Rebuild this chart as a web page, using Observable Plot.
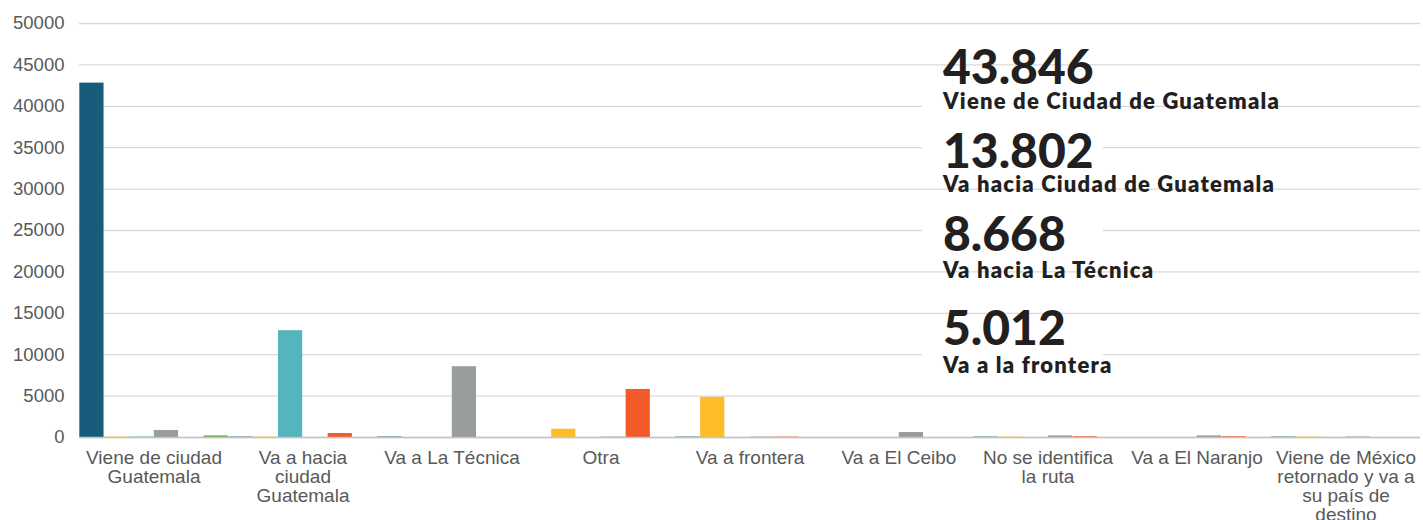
<!DOCTYPE html>
<html><head><meta charset="utf-8">
<script src="https://cdn.jsdelivr.net/npm/d3@7"></script>
<script src="https://cdn.jsdelivr.net/npm/@observablehq/plot@0.6"></script>
<style>
body{margin:0;background:#fff;}
#wrap{position:relative;width:1423px;height:520px;overflow:hidden;background:#fff;}
#wrap svg{position:absolute;left:0;top:0;}
</style></head>
<body><div id="wrap"></div>
<script>
// ---- data ----
const categories = ["Viene de ciudad Guatemala","Va a hacia ciudad Guatemala","Va a La Técnica","Otra","Va a frontera","Va a El Ceibo","No se identifica la ruta","Va a El Naranjo","Viene de México retornado y va a su país de destino"];
const tickLabels = ["Viene de ciudad\nGuatemala","Va a hacia\nciudad\nGuatemala","Va a La Técnica","Otra","Va a frontera","Va a El Ceibo","No se identifica\nla ruta","Va a El Naranjo","Viene de México\nretornado y va a\nsu país de\ndestino"];
const series = ["Serie 1","Serie 2","Serie 3","Serie 4","Serie 5","Serie 6"];
const serie1 = [42800, 50, 60, 0, 50, 0, 50, 0, 50];
const serie2 = [50, 50, 0, 1000, 4850, 0, 50, 0, 50];
const serie3 = [60, 12900, 0, 0, 0, 0, 0, 0, 0];
const serie4 = [850, 0, 8550, 50, 50, 600, 200, 200, 60];
const serie5 = [0, 480, 0, 5800, 50, 0, 100, 100, 0];
const serie6 = [200, 0, 0, 0, 0, 0, 0, 0, 0];
const yTicks = [0,5000,10000,15000,20000,25000,30000,35000,40000,45000,50000];
const annotationValues = ["43.846","13.802","8.668","5.012"];
const annotationLabels = ["Viene de Ciudad de Guatemala","Va hacia Ciudad de Guatemala","Va hacia La Técnica","Va a la frontera"];

// ---- styles ----
const seriesColors = ["#175d7b","#fdbd29","#55b5bf","#9a9d9d","#f25a29","#6bb545"];

const allSeries = [serie1, serie2, serie3, serie4, serie5, serie6];
const rows = [];
categories.forEach((c, i) => {
  series.forEach((s, j) => rows.push({cat: c, serie: s, value: allSeries[j][i]}));
});

const chart = Plot.plot({
  width: 1423, height: 520,
  marginLeft: 79, marginRight: 3, marginTop: 23, marginBottom: 83,
  style: {fontFamily: '"Liberation Sans", Arial, sans-serif', fontSize: "18.5px", color: "#595959", background: "#fff"},
  fx: {domain: categories, padding: 0, round: false, label: null},
  x: {domain: series, padding: 0, round: false, axis: null},
  y: {domain: [0, 50000], label: null},
  color: {domain: series, range: seriesColors},
  marks: [
    Plot.gridY(yTicks, {stroke: "#d9d9d9", strokeOpacity: 1, strokeWidth: 1.3}),
    Plot.barY(rows, {fx: "cat", x: "serie", y: "value", fill: "serie", insetLeft: 0.3, insetRight: 0.3}),
    Plot.ruleY([0], {stroke: "#c4c4c4", strokeWidth: 1.5}),
    Plot.axisY(yTicks, {tickSize: 0, tickPadding: 15, tickFormat: d => String(d), fill: "#595959", fontSize: 18.5}),
    Plot.axisFx({anchor: "bottom", tickSize: 0, tickPadding: 13, lineHeight: 1.0, fill: "#595959", fontSize: 19,
      tickFormat: d => tickLabels[categories.indexOf(d)]})
  ]
});
const wrap = document.getElementById("wrap");
wrap.appendChild(chart);

// ---- annotation overlay ----
const ov = d3.select(wrap).append("svg").attr("width", 1423).attr("height", 520);
const boxes = [[98, 18], [130, 40], [212, 38], [348, 10]];
ov.selectAll("rect").data(boxes).join("rect")
  .attr("x", 922).attr("width", 181).attr("y", d => d[0]).attr("height", d => d[1]).attr("fill", "#fff");
const numBase = [84, 168, 251, 345];
const labBase = [109, 192, 278, 373];
ov.selectAll("text.n").data(annotationValues).join("text").attr("class", "n")
  .attr("x", 943).attr("y", (d, i) => numBase[i])
  .attr("font-family", "Lato, 'Open Sans', sans-serif").attr("font-weight", 900).attr("font-size", 48)
  .attr("fill", "#231f20").text(d => d);
ov.selectAll("text.l").data(annotationLabels).join("text").attr("class", "l")
  .attr("x", 943).attr("y", (d, i) => labBase[i])
  .attr("font-family", "Lato, 'Open Sans', sans-serif").attr("font-weight", 800).attr("font-size", 22)
  .attr("letter-spacing", 1.2)
  .attr("fill", "#231f20").text(d => d);
</script>
</body></html>
